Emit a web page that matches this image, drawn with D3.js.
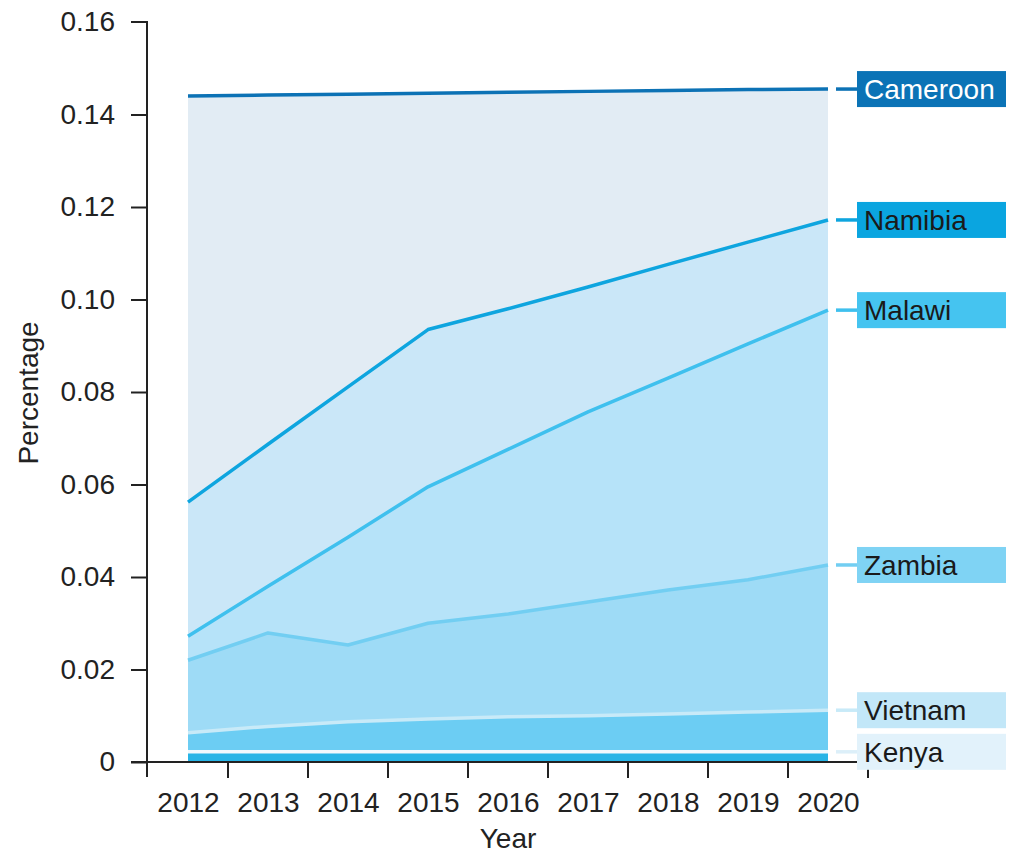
<!DOCTYPE html>
<html><head><meta charset="utf-8">
<script src="https://cdn.jsdelivr.net/npm/d3@7"></script>
<style>body{margin:0;background:#fff}svg{display:block}text{font-family:"Liberation Sans",Arial,sans-serif}</style>
</head><body><svg id="c" width="1015" height="855"></svg>
<script>
const years = [2012,2013,2014,2015,2016,2017,2018,2019,2020];
const yTicks = [0,0.02,0.04,0.06,0.08,0.10,0.12,0.14,0.16];
const yTickLabels = ["0","0.02","0.04","0.06","0.08","0.10","0.12","0.14","0.16"];
const countries = ["Cameroon","Namibia","Malawi","Zambia","Vietnam","Kenya"];
const cameroon = [0.1440,0.1442,0.1444,0.1446,0.1448,0.1450,0.1452,0.1454,0.1455];
const namibia  = [0.0562,0.0687,0.0811,0.0935,0.0980,0.1027,0.1076,0.1124,0.1172];
const malawi   = [0.0272,0.0380,0.0486,0.0595,0.0676,0.0757,0.0830,0.0904,0.0977];
const zambia   = [0.0220,0.0279,0.0253,0.0300,0.0320,0.0346,0.0372,0.0394,0.0426];
const vietnam  = [0.0063,0.0077,0.0087,0.0093,0.0098,0.0100,0.0104,0.0108,0.0112];
const kenya    = [0.0022,0.0022,0.0022,0.0022,0.0022,0.0022,0.0022,0.0022,0.0022];
const seriesValues = [cameroon,namibia,malawi,zambia,vietnam,kenya];

const lineColors = ["#0c72b5","#0ea5df","#3fc0ee","#72cef2","#c8eaf8","#eef8fd"];
const fillColors = ["#e2ecf4","#cae7f8","#b6e3f9","#9edbf6","#6ccdf3","#27b4e6"];
const boxColors  = ["#0b73b6","#0aa5e0","#45c4f0","#7fd3f4","#c2e7f8","#e2f2fb"];
const textColors = ["#ffffff","#1a1a1a","#1a1a1a","#1a1a1a","#1a1a1a","#1a1a1a"];

const svg = d3.select("#c");
const x = d3.scaleLinear().domain([2011.5,2020.5]).range([148,868]);
const y = d3.scaleLinear().domain([0,0.16]).range([762,22]);
const FS = 28;

const area = d3.area().x((d,i)=>x(years[i])).y0(y(0)).y1(d=>y(d));
const line = d3.line().x((d,i)=>x(years[i])).y(d=>y(d));

const g = svg.append("g");
seriesValues.forEach((vals,k)=>{
  g.append("path").attr("d",area(vals)).attr("fill",fillColors[k]);
});
seriesValues.forEach((vals,k)=>{
  g.append("path").attr("d",line(vals)).attr("fill","none")
   .attr("stroke",lineColors[k]).attr("stroke-width",3.5).attr("stroke-linejoin","round");
});

// y axis
const yAxis = d3.axisLeft(y).tickValues(yTicks).tickFormat((d,i)=>yTickLabels[i]).tickSize(16).tickPadding(16);
const ya = svg.append("g").attr("transform","translate(147,0)").call(yAxis);
ya.select(".domain").attr("d","M-16,22H0V777").attr("stroke","#222").attr("stroke-width",2).attr("fill","none");
ya.selectAll(".tick line").attr("stroke","#222").attr("stroke-width",2);
ya.selectAll(".tick text").attr("font-size",FS).attr("fill","#222").attr("font-family","Liberation Sans, Arial, sans-serif");
ya.selectAll(".tick").filter(d=>d===0.16).select("line").remove();

// x axis: labels at year centres, ticks at band boundaries
const xAxis = d3.axisBottom(x).tickValues(years).tickFormat(d3.format("d")).tickSize(0).tickPadding(30);
const xa = svg.append("g").attr("transform","translate(0,762)").call(xAxis);
xa.select(".domain").attr("d","M131,0H868").attr("stroke","#222").attr("stroke-width",2);
xa.selectAll(".tick text").attr("font-size",FS).attr("fill","#222").attr("font-family","Liberation Sans, Arial, sans-serif");
const bounds = years.map(d=>d-0.5).concat([2020.5]).slice(1);
xa.selectAll("line.bt").data(bounds).join("line").attr("class","bt")
  .attr("x1",d=>x(d)).attr("x2",d=>x(d)).attr("y1",0).attr("y2",16)
  .attr("stroke","#222").attr("stroke-width",2);

// axis titles
svg.append("text").attr("x",x(2016)).attr("y",848).attr("text-anchor","middle")
  .attr("font-size",FS).attr("fill","#222").text("Year");
svg.append("text").attr("transform","translate(38,393) rotate(-90)").attr("text-anchor","middle")
  .attr("font-size",FS).attr("fill","#222").text("Percentage");

// labels
countries.forEach((name,k)=>{
  const vals = seriesValues[k];
  const ly = y(vals[vals.length-1]);
  svg.append("line").attr("x1",836).attr("x2",858).attr("y1",ly).attr("y2",ly)
    .attr("stroke",lineColors[k]==="#eef8fd"?"#dceff9":lineColors[k]).attr("stroke-width",3.5);
  svg.append("rect").attr("x",857).attr("y",ly-18).attr("width",149).attr("height",36).attr("fill",boxColors[k]);
  svg.append("text").attr("x",864).attr("y",ly+10).attr("font-size",FS).attr("fill",textColors[k]).text(name);
});
</script></body></html>
